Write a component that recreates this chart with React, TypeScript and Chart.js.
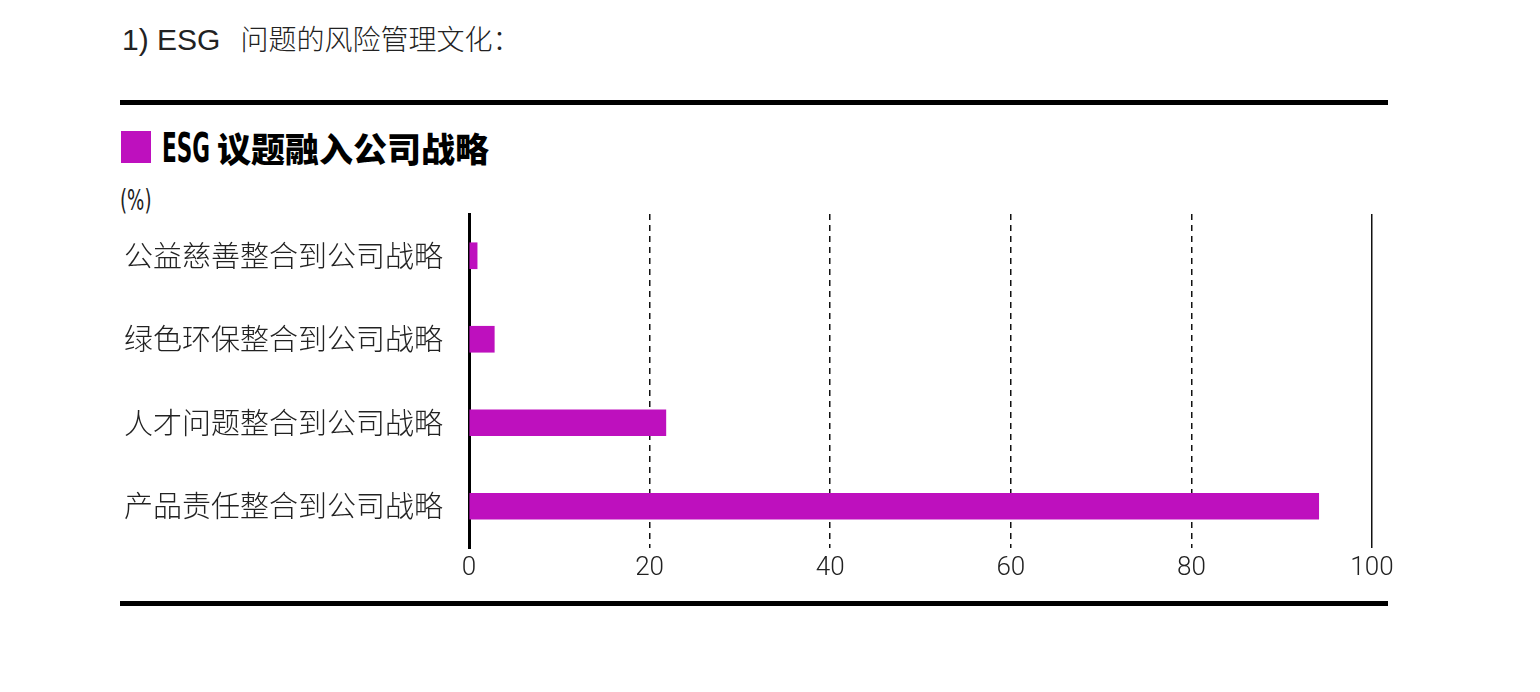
import { useEffect, useRef } from "react";
import { Chart, registerables } from "chart.js";

Chart.register(...registerables);

const categories = [
  "公益慈善整合到公司战略",
  "绿色环保整合到公司战略",
  "人才问题整合到公司战略",
  "产品责任整合到公司战略",
];
const shares = [0.9, 2.8, 21.8, 94.1];
const xTicks = [0, 20, 40, 60, 80, 100];

const PURPLE = "#BE10BE";
const LATIN = "'DejaVu Sans', sans-serif";
const CJK = "'Noto Sans CJK SC', sans-serif";

function StrategyChart() {
  const canvasRef = useRef<HTMLCanvasElement>(null);
  const chartRef = useRef<Chart | null>(null);

  useEffect(() => {
    if (!canvasRef.current) return;
    chartRef.current?.destroy();

    chartRef.current = new Chart(canvasRef.current.getContext("2d")!, {
      type: "bar",
      data: {
        labels: categories,
        datasets: [
          {
            data: shares,
            backgroundColor: PURPLE,
            borderWidth: 0,
            barThickness: 26,
          },
        ],
      },
      options: {
        indexAxis: "y",
        animation: false,
        responsive: true,
        maintainAspectRatio: false,
        layout: { padding: { top: 14, right: 48, left: 0, bottom: 0 } },
        plugins: {
          legend: { display: false },
          tooltip: { enabled: false },
        },
        scales: {
          x: {
            min: 0,
            max: 100,
            afterBuildTicks: (scale) => {
              scale.ticks = xTicks.map((v) => ({ value: v }));
            },
            afterFit: (scale) => {
              scale.height = 42;
            },
            ticks: {
              color: "#222",
              padding: 5,
              font: { family: "Roboto, sans-serif", size: 26, weight: 300 },
            },
            grid: {
              drawTicks: false,
              lineWidth: 1.5,
              color: (ctx) =>
                ctx.tick && ctx.tick.value === 0 ? "rgba(0,0,0,0)" : "#111",
            },
            border: {
              display: false,
              dash: (ctx) =>
                ctx.tick && ctx.tick.value > 0 && ctx.tick.value < 100
                  ? [6, 5]
                  : [],
            },
          },
          y: {
            afterFit: (scale) => {
              scale.width = 369;
              scale.paddingTop = 0;
              scale.paddingBottom = 0;
            },
            grid: { display: false, drawTicks: false },
            border: { display: true, color: "#000", width: 3 },
            ticks: {
              color: "#222",
              padding: 26,
              font: { family: CJK, size: 29, weight: 300 },
            },
          },
        },
      },
    });

    return () => {
      chartRef.current?.destroy();
      chartRef.current = null;
    };
  }, []);

  return (
    <div
      style={{
        position: "absolute",
        left: 100,
        top: 200,
        width: 1320,
        height: 390,
      }}
    >
      <canvas ref={canvasRef} />
    </div>
  );
}

export default function App() {
  return (
    <div
      style={{
        position: "absolute",
        left: 0,
        top: 0,
        width: 1540,
        height: 692,
        background: "#fff",
        overflow: "hidden",
      }}
    >
      <div
        style={{
          position: "absolute",
          left: 122,
          top: 22,
          fontSize: 28,
          lineHeight: "32px",
          color: "#222",
          whiteSpace: "nowrap",
        }}
      >
        <span style={{ fontFamily: "'Liberation Sans', Arial, sans-serif", fontSize: 30 }}>
          1) ESG
        </span>
        <span style={{ fontFamily: CJK, fontWeight: 300, marginLeft: 20 }}>
          问题的风险管理文化：
        </span>
      </div>
      <div
        style={{
          position: "absolute",
          left: 120,
          top: 100,
          width: 1268,
          height: 5,
          background: "#000",
        }}
      />
      <div
        style={{
          position: "absolute",
          left: 121,
          top: 131,
          width: 30,
          height: 32,
          background: PURPLE,
        }}
      />
      <div
        style={{
          position: "absolute",
          left: 162,
          top: 128,
          fontSize: 34,
          lineHeight: "40px",
          color: "#000",
          whiteSpace: "nowrap",
          display: "flex",
          alignItems: "center",
        }}
      >
        <span
          style={{
            fontFamily: LATIN,
            fontWeight: 700,
            fontSize: 40,
            display: "inline-block",
            width: 45,
            transform: "scaleX(0.54)",
            transformOrigin: "left center",
          }}
        >
          ESG
        </span>
        <span style={{ fontFamily: CJK, fontWeight: 900, marginLeft: 10 }}>
          议题融入公司战略
        </span>
      </div>
      <div
        style={{
          position: "absolute",
          left: 120,
          top: 185,
          fontFamily: LATIN,
          fontSize: 28,
          lineHeight: "32px",
          color: "#222",
          transform: "scaleX(0.65)",
          transformOrigin: "left center",
        }}
      >
        (%)
      </div>
      <StrategyChart />
      <div
        style={{
          position: "absolute",
          left: 120,
          top: 601,
          width: 1268,
          height: 5,
          background: "#000",
        }}
      />
    </div>
  );
}
